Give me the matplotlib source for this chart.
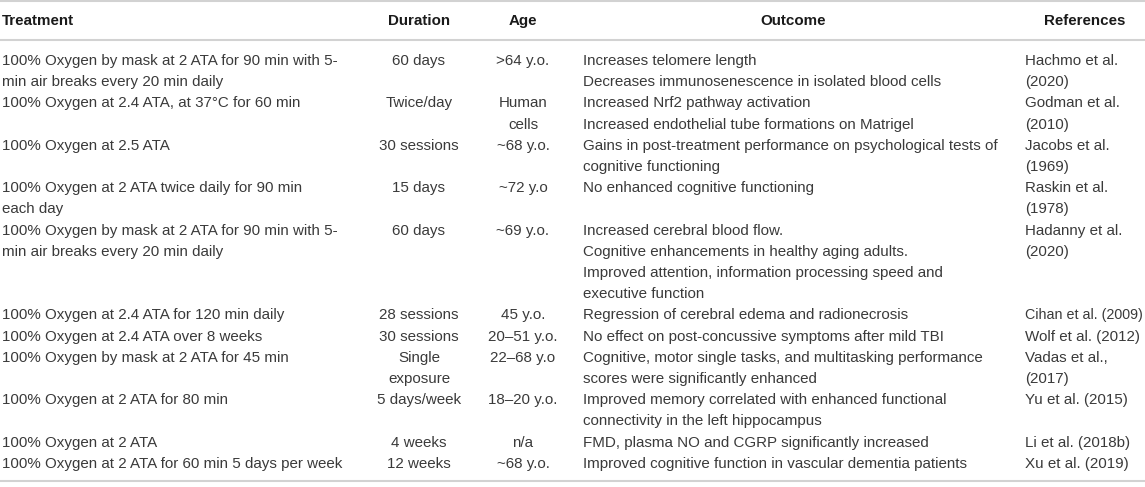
import matplotlib.pyplot as plt

plt.rcParams['font.family'] = ['Liberation Sans', 'DejaVu Sans']

# Table content
headers = ['Treatment', 'Duration', 'Age', 'Outcome', 'References']

treatment = [
    ['100% Oxygen by mask at 2 ATA for 90 min with 5-', 'min air breaks every 20 min daily'],
    ['100% Oxygen at 2.4 ATA, at 37°C for 60 min'],
    ['100% Oxygen at 2.5 ATA'],
    ['100% Oxygen at 2 ATA twice daily for 90 min', 'each day'],
    ['100% Oxygen by mask at 2 ATA for 90 min with 5-', 'min air breaks every 20 min daily'],
    ['100% Oxygen at 2.4 ATA for 120 min daily'],
    ['100% Oxygen at 2.4 ATA over 8 weeks'],
    ['100% Oxygen by mask at 2 ATA for 45 min'],
    ['100% Oxygen at 2 ATA for 80 min'],
    ['100% Oxygen at 2 ATA'],
    ['100% Oxygen at 2 ATA for 60 min 5 days per week'],
]

duration = [
    ['60 days'], ['Twice/day'], ['30 sessions'], ['15 days'], ['60 days'],
    ['28 sessions'], ['30 sessions'], ['Single', 'exposure'], ['5 days/week'],
    ['4 weeks'], ['12 weeks'],
]

age = [
    ['>64 y.o.'], ['Human', 'cells'], ['~68 y.o.'], ['~72 y.o'], ['~69 y.o.'],
    ['45 y.o.'], ['20–51 y.o.'], ['22–68 y.o'], ['18–20 y.o.'], ['n/a'], ['~68 y.o.'],
]

outcome = [
    ['Increases telomere length', 'Decreases immunosenescence in isolated blood cells'],
    ['Increased Nrf2 pathway activation', 'Increased endothelial tube formations on Matrigel'],
    ['Gains in post-treatment performance on psychological tests of', 'cognitive functioning'],
    ['No enhanced cognitive functioning'],
    ['Increased cerebral blood flow.', 'Cognitive enhancements in healthy aging adults.',
     'Improved attention, information processing speed and', 'executive function'],
    ['Regression of cerebral edema and radionecrosis'],
    ['No effect on post-concussive symptoms after mild TBI'],
    ['Cognitive, motor single tasks, and multitasking performance',
     'scores were significantly enhanced'],
    ['Improved memory correlated with enhanced functional',
     'connectivity in the left hippocampus'],
    ['FMD, plasma NO and CGRP significantly increased'],
    ['Improved cognitive function in vascular dementia patients'],
]

references = [
    ['Hachmo et al.', '(2020)'], ['Godman et al.', '(2010)'], ['Jacobs et al.', '(1969)'],
    ['Raskin et al.', '(1978)'], ['Hadanny et al.', '(2020)'], ['Cihan et al. (2009)'],
    ['Wolf et al. (2012)'], ['Vadas et al.,', '(2017)'], ['Yu et al. (2015)'],
    ['Li et al. (2018b)'], ['Xu et al. (2019)'],
]

W, H = 1145, 487
fig = plt.figure(figsize=(W / 100, H / 100), dpi=100)
ax = fig.add_axes([0, 0, 1, 1])
ax.set_xlim(0, W)
ax.set_ylim(H, 0)
ax.axis('off')

fs = 10.9
body_col = '#3a3a3a'
head_col = '#1a1a1a'
rule_col = '#d2d2d2'

# column anchors (x, alignment)
cols = [(2, 'left'), (419, 'center'), (523, 'center'), (583, 'left'), (1025, 'left')]
head_pos = [(2, 'left'), (419, 'center'), (523, 'center'), (793, 'center'), (1085, 'center')]

for (x, ha), h in zip(head_pos, headers):
    ax.text(x, 21, h, ha=ha, va='center', fontsize=fs, fontweight='bold', color=head_col)

ax.axhline(1, color=rule_col, lw=1.5)
ax.axhline(39.5, color=rule_col, lw=1.5)
ax.axhline(481, color=rule_col, lw=1.5)

y0 = 61
dy = 21.2
line = 0
for r in range(len(treatment)):
    cells = [treatment[r], duration[r], age[r], outcome[r], references[r]]
    nlines = max(len(c) for c in cells)
    for j, ((x, ha), c) in enumerate(zip(cols, cells)):
        for k, s in enumerate(c):
            # the reference squeezes the widest citation to fit the page edge
            size = 10.3 if (j == 4 and len(s) > 18) else fs
            ax.text(x, y0 + dy * (line + k), s, ha=ha, va='center', fontsize=size,
                    color=body_col)
    line += nlines

fig.savefig('out.png', dpi=100)
